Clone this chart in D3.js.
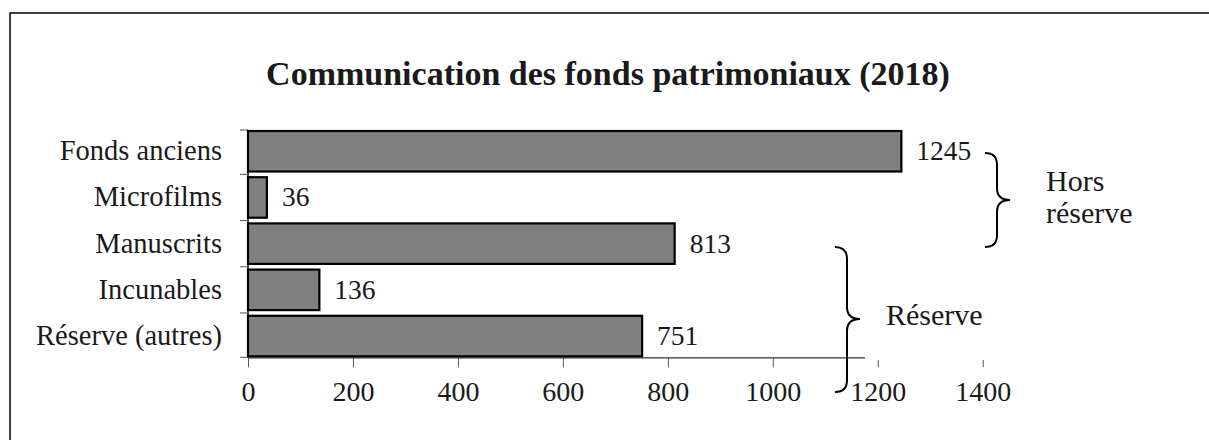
<!DOCTYPE html>
<html>
<head>
<meta charset="utf-8">
<script src="https://cdn.jsdelivr.net/npm/d3@7"></script>
<style>
  body { margin: 0; background: #fff; }
  text { font-family: "Liberation Serif", "DejaVu Serif", serif; fill: #1a1a1a; }
</style>
</head>
<body>
<svg id="chart"></svg>
<script>
// Données
const categories = ["Fonds anciens", "Microfilms", "Manuscrits", "Incunables", "Réserve (autres)"];
const values = [1245, 36, 813, 136, 751];
const xTicks = [0, 200, 400, 600, 800, 1000, 1200, 1400];
const title = "Communication des fonds patrimoniaux (2018)";

const W = 1209, H = 440;
const svg = d3.select("#chart").attr("width", W).attr("height", H);

// Cadre (seulement haut et gauche visibles)
svg.append("path")
  .attr("d", `M10,${H} L10,13 L${W},13`)
  .attr("fill", "none").attr("stroke", "#000").attr("stroke-width", 1.5);

// Titre
svg.append("text")
  .attr("x", 608).attr("y", 85)
  .attr("text-anchor", "middle")
  .attr("font-size", 34).attr("font-weight", "bold")
  .text(title);

// Échelles
const x = d3.scaleLinear().domain([0, 1400]).range([248, 982.7]);
const y = d3.scaleBand().domain(categories).range([130, 357.3]).paddingInner(0.08).paddingOuter(0);
const step = y.step(), gap = step - y.bandwidth();

// Axe X
const xAxis = svg.append("g").attr("transform", "translate(0,357.3)")
  .call(d3.axisBottom(x).tickValues(xTicks).tickFormat(d3.format("d"))
    .tickSize(10).tickPadding(12).tickSizeOuter(0));
xAxis.select(".domain").attr("stroke", "#333").attr("stroke-width", 1.2);
xAxis.selectAll(".tick line").attr("stroke", "#555").attr("stroke-width", 1);
xAxis.selectAll(".tick text")
  .attr("font-family", "Liberation Serif, serif").attr("font-size", 28).attr("fill", "#222")
  .attr("dy", null).attr("y", 43.5);

// Axe Y
svg.append("line")
  .attr("x1", x(0)).attr("x2", x(0)).attr("y1", 130).attr("y2", 357.3)
  .attr("stroke", "#000").attr("stroke-width", 1.5);
const bounds = categories.map(c => y(c) - (c === categories[0] ? 0 : gap / 2)).concat([357.3]);
svg.selectAll(".ytick").data(bounds).enter().append("line")
  .attr("class", "ytick")
  .attr("x1", x(0) - 8).attr("x2", x(0)).attr("y1", d => d).attr("y2", d => d)
  .attr("stroke", "#555").attr("stroke-width", 1);

// Étiquettes catégories
svg.selectAll(".cat").data(categories).enter().append("text")
  .attr("class", "cat")
  .attr("x", 222).attr("y", d => y(d) + y.bandwidth() / 2 + 9)
  .attr("text-anchor", "end").attr("font-size", 28.5)
  .text(d => d);

// Barres
const rows = categories.map((c, i) => ({ cat: c, val: values[i] }));
svg.selectAll(".bar").data(rows).enter().append("rect")
  .attr("class", "bar")
  .attr("x", x(0)).attr("y", d => y(d.cat) + 1)
  .attr("width", d => x(d.val) - x(0)).attr("height", y.bandwidth() - 2)
  .attr("fill", "#808080").attr("stroke", "#000").attr("stroke-width", 2.2);

// Valeurs
svg.selectAll(".val").data(rows).enter().append("text")
  .attr("class", "val")
  .attr("x", d => x(d.val) + 15).attr("y", d => y(d.cat) + y.bandwidth() / 2 + 9)
  .attr("font-size", 27.5).attr("fill", "#2a2a2a")
  .text(d => d.val);

// Zone blanche de la zone de texte "Réserve"
svg.append("rect").attr("x", 865).attr("y", 270).attr("width", 140).attr("height", 90).attr("fill", "#fff");

// Accolades
function brace(x0, yTop, yBot, yMid) {
  const xs = x0 + 12, xt = x0 + 25, r = 12;
  return `M${x0},${yTop} Q${xs},${yTop} ${xs},${yTop + r} L${xs},${yMid - r} Q${xs},${yMid} ${xt},${yMid}` +
    ` Q${xs},${yMid} ${xs},${yMid + r} L${xs},${yBot - r} Q${xs},${yBot} ${x0},${yBot}`;
}
svg.append("path").attr("d", brace(985, 153, 247, 200))
  .attr("fill", "none").attr("stroke", "#000").attr("stroke-width", 2);
svg.append("path").attr("d", brace(835, 247, 392, 319))
  .attr("fill", "none").attr("stroke", "#000").attr("stroke-width", 2);

svg.append("text").attr("x", 1046).attr("y", 191).attr("font-size", 30).text("Hors");
svg.append("text").attr("x", 1046).attr("y", 223).attr("font-size", 30).text("réserve");
svg.append("text").attr("x", 886).attr("y", 325).attr("font-size", 30).text("Réserve");
</script>
</body>
</html>
